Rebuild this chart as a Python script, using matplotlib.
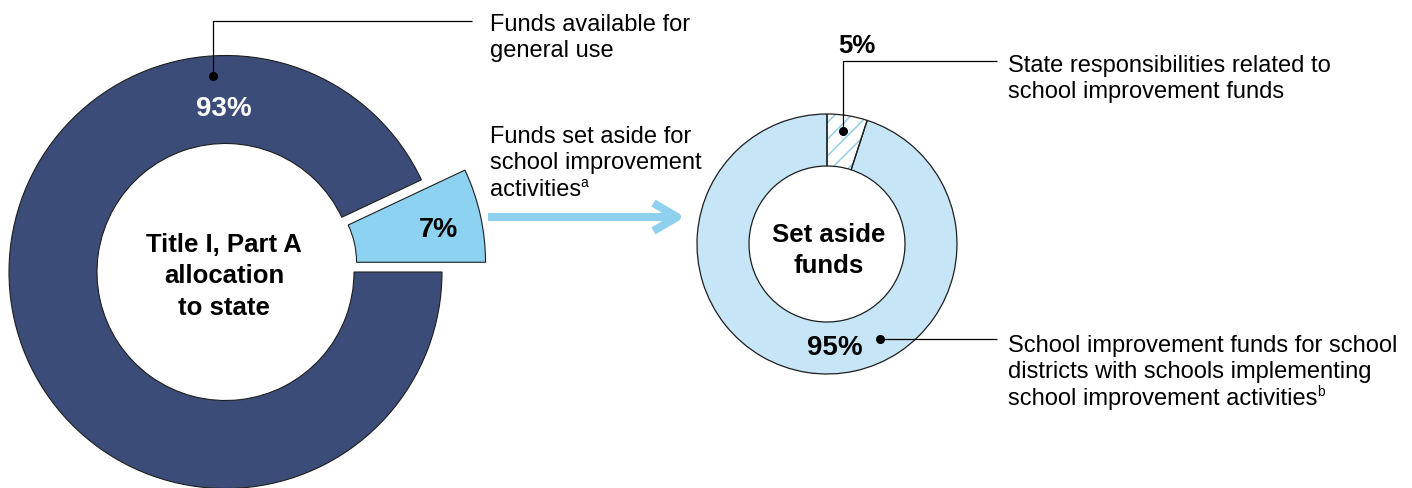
import matplotlib
matplotlib.use("Agg")
import matplotlib.pyplot as plt
from matplotlib.patches import FancyArrowPatch, Wedge

plt.rcParams['font.family'] = ['Liberation Sans', 'DejaVu Sans']
plt.rcParams['hatch.linewidth'] = 1.0

# ---------------- data ----------------
alloc_labels = [["Funds available for", "general use"],
                ["Funds set aside for", "school improvement", "activities"]]
alloc_label_notes = ["", "a"]
alloc_values = [93, 7]
alloc_pct_text = ["93%", "7%"]
alloc_center_lines = ["Title I, Part A", "allocation", "to state"]

setaside_labels = [["State responsibilities related to", "school improvement funds"],
                   ["School improvement funds for school", "districts with schools implementing",
                    "school improvement activities"]]
setaside_label_notes = ["", "b"]
setaside_values = [5, 95]
setaside_pct_text = ["5%", "95%"]
setaside_center_lines = ["Set aside", "funds"]

# ---------------- style ----------------
DARK = "#3b4c78"
LIGHT = "#8dd2f0"
PALE = "#c6e6f7"
HATCH = "#8ccbea"
ARROW = "#8ed0ee"
EDGE = "#1e1e1e"

W, H = 1412, 489
fig = plt.figure(figsize=(W / 100, H / 100), dpi=100)
ax = fig.add_axes([0, 0, 1, 1])


def Y(y):
    return H - y


# ---------------- left donut ----------------
c1 = (225.5, Y(273))
R1 = 216.5
start1 = 360.0 * alloc_values[1] / sum(alloc_values)
w1, _ = ax.pie(alloc_values, radius=R1, center=c1, startangle=start1,
               counterclock=True, explode=[0, 44.6], colors=[DARK, LIGHT],
               wedgeprops=dict(width=88, edgecolor=EDGE, linewidth=0.8))
w1[1].set_width(129)

# ---------------- right donut ----------------
c2 = (827, Y(245))
R2 = 130
w2, _ = ax.pie(setaside_values, radius=R2, center=c2, startangle=90,
               counterclock=False, colors=["white", PALE],
               wedgeprops=dict(width=52, edgecolor=EDGE, linewidth=0.9))
hw = w2[0]
hw.set_hatch("//")
hw.set_edgecolor(HATCH)
hw.set_linewidth(0)
ax.add_patch(Wedge(hw.center, hw.r, hw.theta1, hw.theta2, width=hw.width,
                   facecolor="none", edgecolor=EDGE, linewidth=0.9))

ax.set_xlim(0, W)
ax.set_ylim(0, H)
ax.set_aspect("equal")
ax.axis("off")

# ---------------- texts in donuts ----------------
bold = dict(fontweight="bold", ha="center", va="baseline")
for line, yb in zip(alloc_center_lines, [252, 283.5, 315]):
    ax.text(224, Y(yb), line, fontsize=18.5, color="black", **bold)
for line, yb in zip(setaside_center_lines, [242, 273]):
    ax.text(829, Y(yb), line, fontsize=18.5, color="black", **bold)

ax.text(223.5, Y(116), alloc_pct_text[0], fontsize=20, color="white", **bold)
ax.text(438, Y(237), alloc_pct_text[1], fontsize=19.5, color="black", **bold)
ax.text(857, Y(53), setaside_pct_text[0], fontsize=18.5, color="black", **bold)
ax.text(835, Y(355), setaside_pct_text[1], fontsize=20, color="black", **bold)

# ---------------- leader lines ----------------
lk = dict(color="black", linewidth=0.9, solid_capstyle="butt")
ax.plot([213, 213, 472], [Y(77), Y(22), Y(22)], **lk)
ax.plot([213], [Y(77)], "o", color="black", ms=5.5)
ax.plot([843, 843, 997], [Y(132), Y(62), Y(62)], **lk)
ax.plot([843], [Y(132)], "o", color="black", ms=5.5)
ax.plot([880, 997], [Y(340), Y(340)], **lk)
ax.plot([880], [Y(340)], "o", color="black", ms=5.5)

# ---------------- annotation texts ----------------
renderer = fig.canvas.get_renderer()
STEP = 26.5


def block(x, y0, lines, note):
    last = None
    for i, ln in enumerate(lines):
        last = ax.text(x, Y(y0 + i * STEP), ln, fontsize=17, color="black",
                       ha="left", va="baseline")
    if note:
        bb = last.get_window_extent(renderer=renderer)
        ax.text(bb.x1 - 0.5, Y(y0 + (len(lines) - 1) * STEP - 9), note,
                fontsize=10, color="black", ha="left", va="baseline")


block(490, 31, alloc_labels[0], alloc_label_notes[0])
block(490, 143, alloc_labels[1], alloc_label_notes[1])
block(1008, 72, setaside_labels[0], setaside_label_notes[0])
block(1008, 352, setaside_labels[1], setaside_label_notes[1])

# ---------------- arrow ----------------
arr = FancyArrowPatch((488, Y(218)), (685, Y(218)),
                      arrowstyle="->,head_length=17,head_width=10",
                      mutation_scale=1, color=ARROW, linewidth=5.8,
                      shrinkA=0, shrinkB=0, capstyle="butt", joinstyle="round")
ax.add_patch(arr)

fig.savefig("out.png", dpi=100)
